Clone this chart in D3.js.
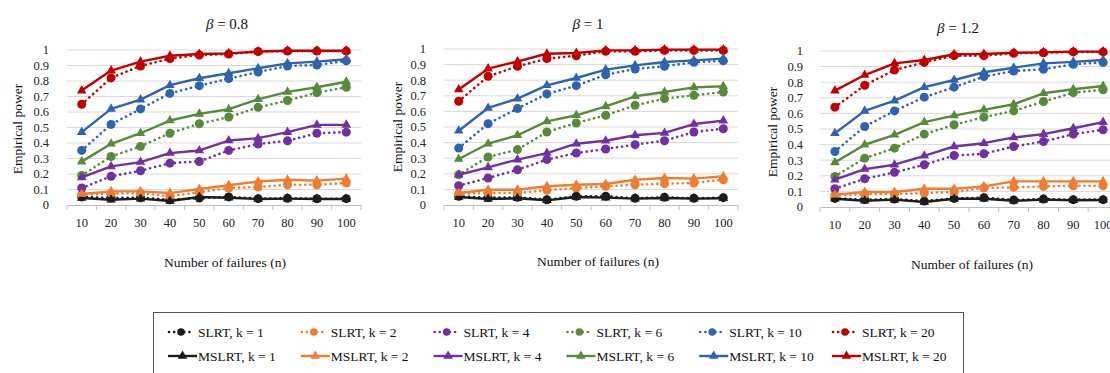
<!DOCTYPE html>
<html><head><meta charset="utf-8">
<script src="https://cdn.jsdelivr.net/npm/d3@7"></script>
<style>
html,body{margin:0;padding:0;background:#fff;}
svg text{font-family:'Liberation Serif','DejaVu Serif','Times New Roman',serif !important;}
</style></head>
<body><svg id="c" width="1110" height="373"></svg>
<script>
const nValues = [10,20,30,40,50,60,70,80,90,100];
const yTicks = [0,0.1,0.2,0.3,0.4,0.5,0.6,0.7,0.8,0.9,1];
const kValues = [1,2,4,6,10,20];
const panelTitles = ["0.8","1","1.2"];
const seriesColors = ["#1c1c1c","#ED7D31","#7030A0","#578A3A","#2E64AD","#C00000"];

// beta = 0.8
const slrt_b08 = [
  [0.052,0.045,0.047,0.034,0.045,0.052,0.041,0.043,0.040,0.041],
  [0.067,0.073,0.077,0.056,0.082,0.110,0.116,0.131,0.131,0.142],
  [0.110,0.185,0.221,0.270,0.281,0.352,0.393,0.414,0.463,0.470],
  [0.190,0.313,0.378,0.463,0.524,0.567,0.630,0.674,0.725,0.760],
  [0.352,0.520,0.620,0.720,0.770,0.815,0.858,0.897,0.903,0.930],
  [0.650,0.820,0.897,0.944,0.968,0.974,0.990,0.993,0.993,0.993]];
const mslrt_b08 = [
  [0.045,0.034,0.041,0.026,0.052,0.047,0.039,0.041,0.039,0.039],
  [0.071,0.088,0.088,0.077,0.103,0.127,0.152,0.163,0.157,0.170],
  [0.178,0.249,0.277,0.335,0.352,0.416,0.431,0.470,0.517,0.517],
  [0.280,0.395,0.463,0.545,0.588,0.618,0.682,0.730,0.760,0.795],
  [0.470,0.620,0.680,0.773,0.818,0.850,0.882,0.914,0.925,0.940],
  [0.738,0.867,0.925,0.963,0.974,0.978,0.990,0.995,0.995,0.995]];
// beta = 1
const slrt_b1 = [
  [0.056,0.047,0.049,0.034,0.056,0.056,0.043,0.049,0.043,0.047],
  [0.073,0.077,0.077,0.094,0.109,0.120,0.130,0.137,0.141,0.162],
  [0.124,0.173,0.226,0.291,0.333,0.359,0.387,0.412,0.468,0.489],
  [0.194,0.308,0.355,0.468,0.526,0.575,0.639,0.682,0.703,0.724],
  [0.365,0.521,0.618,0.712,0.765,0.835,0.872,0.889,0.915,0.925],
  [0.665,0.825,0.889,0.938,0.957,0.985,0.985,0.991,0.991,0.991]];
const mslrt_b1 = [
  [0.051,0.038,0.043,0.030,0.051,0.047,0.041,0.045,0.041,0.043],
  [0.077,0.098,0.098,0.120,0.130,0.135,0.162,0.173,0.169,0.184],
  [0.194,0.241,0.291,0.333,0.393,0.412,0.447,0.462,0.519,0.541],
  [0.295,0.393,0.447,0.536,0.575,0.632,0.697,0.724,0.754,0.761],
  [0.476,0.622,0.682,0.767,0.814,0.868,0.895,0.917,0.927,0.938],
  [0.740,0.874,0.920,0.970,0.974,0.991,0.991,0.996,0.996,0.996]];
// beta = 1.2
const slrt_b12 = [
  [0.055,0.047,0.051,0.038,0.055,0.060,0.045,0.051,0.047,0.047],
  [0.075,0.083,0.083,0.090,0.096,0.122,0.126,0.132,0.136,0.136],
  [0.117,0.181,0.222,0.271,0.330,0.341,0.388,0.420,0.467,0.495],
  [0.196,0.313,0.377,0.467,0.527,0.576,0.616,0.676,0.733,0.751],
  [0.356,0.516,0.616,0.704,0.768,0.836,0.872,0.883,0.915,0.927],
  [0.640,0.780,0.878,0.927,0.970,0.970,0.985,0.989,0.994,0.994]];
const mslrt_b12 = [
  [0.053,0.040,0.047,0.032,0.053,0.053,0.040,0.047,0.043,0.045],
  [0.079,0.096,0.096,0.117,0.117,0.132,0.164,0.164,0.164,0.164],
  [0.175,0.243,0.271,0.328,0.388,0.409,0.446,0.467,0.505,0.544],
  [0.286,0.399,0.463,0.544,0.586,0.623,0.659,0.729,0.755,0.776],
  [0.473,0.616,0.682,0.768,0.814,0.864,0.893,0.921,0.930,0.942],
  [0.746,0.846,0.921,0.942,0.979,0.981,0.989,0.991,0.996,0.996]];

const slrtData = [slrt_b08, slrt_b1, slrt_b12];
const mslrtData = [mslrt_b08, mslrt_b1, mslrt_b12];

const FONT = "'Liberation Serif','DejaVu Serif','Times New Roman',serif";

// layout
const panels = [
  {left:67, right:361, top:50, bottom:205, titleX:227, titleY:24, ylabX:17, ylabY:129, tickR:49, xtX:225, xtY:262},
  {left:444, right:738, top:49, bottom:205, titleX:588, titleY:24, ylabX:397, ylabY:127, tickR:426, xtX:598, xtY:261},
  {left:820, right:1118, top:51, bottom:207, titleX:958, titleY:28, ylabX:772, ylabY:132, tickR:803, xtX:972, xtY:264}
];

const svg = d3.select("#c");
const tri = d3.symbol().type(d3.symbolTriangle).size(40);

panels.forEach((p, pi) => {
  const g = svg.append("g");
  const x = d3.scaleBand().domain(nValues).range([p.left, p.right]);
  const y = d3.scaleLinear().domain([0,1]).range([p.bottom, p.top]);
  g.selectAll("line.grid").data(yTicks.filter(t=>t>0)).join("line")
    .attr("x1", p.left).attr("x2", p.right)
    .attr("y1", d=>y(d)).attr("y2", d=>y(d))
    .attr("stroke", "#d9d9d9").attr("stroke-width", 1);
  g.selectAll("text.yt").data(yTicks).join("text")
    .attr("x", p.tickR).attr("y", d=>y(d)).attr("dy","0.35em")
    .attr("text-anchor","end").attr("font-size", 12.5).attr("fill","#222")
    .attr("font-family", FONT)
    .text(d=>d3.format("")(d));
  const xAxis = d3.axisBottom(x).tickSize(0).tickPadding(13);
  const ax = g.append("g").attr("transform", `translate(0,${y(0)})`).call(xAxis)
    .attr("font-family", FONT);
  ax.select(".domain").attr("stroke","#bfbfbf");
  ax.selectAll("text").attr("font-size",12.5).attr("fill","#222");
  const bounds = nValues.map(n=>x(n)).concat([x(nValues[nValues.length-1]) + x.bandwidth()]);
  g.selectAll("line.bt").data(bounds).join("line")
    .attr("x1", d=>d).attr("x2", d=>d).attr("y1", y(0)).attr("y2", y(0)+5)
    .attr("stroke","#bfbfbf");
  const t = g.append("text").attr("x", p.titleX).attr("y", p.titleY).attr("dy","0.35em")
    .attr("text-anchor","middle").attr("font-size",15).attr("fill","#111").attr("font-family", FONT);
  t.append("tspan").attr("font-style","italic").text("β");
  t.append("tspan").text(" = " + panelTitles[pi]);
  g.append("text").attr("transform", `translate(${p.ylabX},${p.ylabY}) rotate(-90)`)
    .attr("dy","0.35em").attr("text-anchor","middle").attr("font-size",13.5).attr("fill","#111")
    .attr("font-family", FONT).text("Empirical power");
  g.append("text").attr("x", p.xtX).attr("y", p.xtY).attr("dy","0.35em")
    .attr("text-anchor","middle").attr("font-size",13.5).attr("fill","#111")
    .attr("font-family", FONT).text("Number of failures (n)");

  const cx = n => x(n) + x.bandwidth()/2;
  const line = d3.line().x((d,i)=>cx(nValues[i])).y(d=>y(d));
  slrtData[pi].forEach((vals, si) => {
    g.append("path").datum(vals).attr("d", line).attr("fill","none")
      .attr("stroke", seriesColors[si]).attr("stroke-width", 2.6)
      .attr("stroke-dasharray","0.1,5").attr("stroke-linecap","round");
    g.selectAll(null).data(vals).join("circle")
      .attr("cx",(d,i)=>cx(nValues[i])).attr("cy", d=>y(d)).attr("r", 4.5)
      .attr("fill", seriesColors[si]);
  });
  mslrtData[pi].forEach((vals, si) => {
    g.append("path").datum(vals).attr("d", line).attr("fill","none")
      .attr("stroke", seriesColors[si]).attr("stroke-width", 2.4).attr("stroke-linejoin","round");
    g.selectAll(null).data(vals).join("path")
      .attr("d", tri).attr("transform",(d,i)=>`translate(${cx(nValues[i])},${y(d)})`)
      .attr("fill", seriesColors[si]);
  });
});

// legend
const lg = svg.append("g");
lg.append("rect").attr("x",153.5).attr("y",312.5).attr("width",810).attr("height",70)
  .attr("fill","#fff").attr("stroke","#555").attr("stroke-width",1);
const colX = d3.scaleLinear().domain([0,5]).range([168, 832]);
const rowY = [332, 356];
kValues.forEach((k, i) => {
  const x0 = colX(i);
  lg.append("line").attr("x1",x0+1).attr("x2",x0+24).attr("y1",rowY[0]).attr("y2",rowY[0])
    .attr("stroke",seriesColors[i]).attr("stroke-width",2.6)
    .attr("stroke-dasharray","0.1,5").attr("stroke-linecap","round");
  lg.append("circle").attr("cx",x0+13).attr("cy",rowY[0]).attr("r",3.8).attr("fill",seriesColors[i]);
  lg.append("text").attr("x",x0+30).attr("y",rowY[0]).attr("dy","0.35em")
    .attr("font-size",13.5).attr("fill","#111").attr("font-family", FONT).text(`SLRT, k = ${k}`);
  lg.append("line").attr("x1",x0).attr("x2",x0+29).attr("y1",rowY[1]).attr("y2",rowY[1])
    .attr("stroke",seriesColors[i]).attr("stroke-width",2.4);
  lg.append("path").attr("d",tri).attr("transform",`translate(${x0+14.5},${rowY[1]})`)
    .attr("fill",seriesColors[i]);
  lg.append("text").attr("x",x0+30).attr("y",rowY[1]).attr("dy","0.35em")
    .attr("font-size",13.5).attr("fill","#111").attr("font-family", FONT).text(`MSLRT, k = ${k}`);
});
</script></body></html>
